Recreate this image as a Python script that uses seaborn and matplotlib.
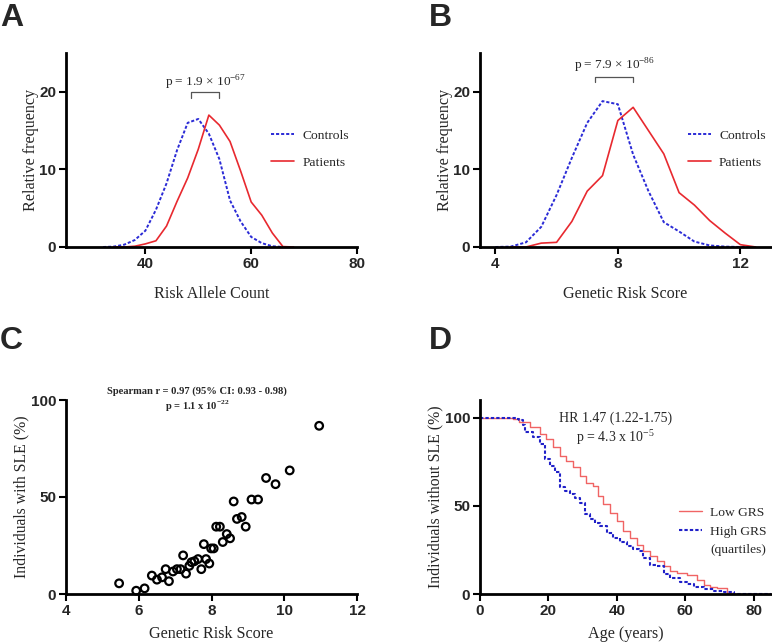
import numpy as np
import pandas as pd
import matplotlib.pyplot as plt
import seaborn as sns
from matplotlib.lines import Line2D

sns.set_style("ticks")
plt.rcParams['mathtext.fontset'] = 'custom'
plt.rcParams['mathtext.rm'] = 'Liberation Serif'
plt.rcParams['mathtext.bf'] = 'Liberation Serif:bold'

# --- data: panel A (risk allele count distributions) ---
a_ctrl_x = [32, 34, 36, 38, 40, 42, 44, 46, 48, 50, 52, 54, 56, 58, 60, 62, 64, 66, 68]
a_ctrl_y = [0, 0.05, 0.3, 0.9, 2.1, 4.8, 8.2, 12.5, 16.0, 16.5, 14.6, 11.3, 6.0, 3.3, 1.3, 0.5, 0.1, 0, 0]
a_pat_x = [34, 36, 38, 40, 42, 44, 46, 48, 50, 52, 54, 56, 58, 60, 62, 64, 66, 68]
a_pat_y = [0, 0, 0.1, 0.4, 0.8, 2.7, 5.9, 8.9, 12.6, 17.0, 15.7, 13.6, 9.8, 5.8, 4.1, 1.8, 0.05, 0]

# --- panel B (genetic risk score distributions) ---
b_ctrl_x = [4.0, 4.5, 5.0, 5.5, 6.0, 6.5, 7.0, 7.5, 8.0, 8.5, 9.0, 9.5, 10.0, 10.5, 11.0, 11.5, 12.0, 12.5]
b_ctrl_y = [0, 0.05, 0.6, 2.6, 6.7, 11.5, 16.0, 18.8, 18.4, 11.9, 7.2, 3.2, 2.0, 0.7, 0.2, 0.05, 0, 0]
b_pat_x = [4.5, 5.0, 5.5, 6.0, 6.5, 7.0, 7.5, 8.0, 8.5, 9.0, 9.5, 10.0, 10.5, 11.0, 11.5, 12.0, 12.5]
b_pat_y = [0, 0, 0.5, 0.6, 3.3, 7.2, 9.2, 16.3, 18.0, 15.0, 12.0, 7.0, 5.4, 3.4, 1.8, 0.3, 0]

# --- panel C (GRS bins vs % with SLE) ---
c_grs = [5.46, 5.93, 6.16, 6.36, 6.50, 6.64, 6.74, 6.83, 6.94, 7.05, 7.15, 7.22, 7.30,
         7.39, 7.45, 7.53, 7.63, 7.72, 7.79, 7.85, 7.94, 7.99, 8.06, 8.13, 8.23, 8.31,
         8.42, 8.51, 8.61, 8.70, 8.83, 8.94, 9.10, 9.28, 9.50, 9.76, 10.15, 10.96]
c_pct = [5.5, 1.7, 2.9, 9.5, 7.4, 8.6, 12.8, 6.6, 11.6, 12.8, 12.8, 19.9, 10.5,
         14.5, 16.4, 16.9, 18.0, 12.8, 25.7, 18.0, 15.7, 23.5, 23.5, 34.7, 34.7, 26.8,
         30.9, 28.7, 47.7, 38.7, 39.7, 34.7, 48.7, 48.7, 59.8, 56.6, 63.7, 86.7]

# --- panel D (survival without SLE) ---
d_low_age = [0, 9.6, 11.5, 14.5, 17.4, 19.4, 21.3, 23.3, 25.2, 27.2, 29.2, 31.1, 33.1, 34.5,
             36.0, 38.0, 39.9, 41.9, 43.8, 45.8, 47.7, 49.7, 51.7, 53.6, 55.6, 57.5, 60.5,
             63.4, 65.4, 67.3, 69.3, 72.2, 74.2, 76.1, 85]
d_low_pct = [100, 99.4, 97.5, 94.7, 90.9, 88.0, 83.2, 78.5, 75.6, 71.8, 67.0, 62.9, 61.3,
             55.6, 50.9, 46.1, 41.3, 35.6, 31.8, 28.0, 24.2, 21.3, 18.5, 15.6, 12.8, 11.8,
             10.9, 8.0, 5.1, 4.2, 3.6, 0.8, 0, 0, 0]
d_high_age = [0, 10.6, 11.5, 12.5, 13.0, 15.5, 17.4, 18.9, 20.4, 21.8, 23.3, 24.8, 26.2, 27.7,
              29.2, 30.6, 32.1, 33.6, 35.0, 37.0, 38.9, 40.9, 42.9, 44.8, 46.3, 47.7, 49.7,
              51.7, 53.6, 55.6, 58.5, 60.5, 62.4, 65.4, 68.3, 71.2, 74.2, 76.0, 85]
d_high_pct = [100, 99.4, 98.5, 95.6, 91.8, 89.0, 85.1, 76.6, 72.8, 69.0, 60.4, 58.5, 56.6, 54.7,
              51.8, 45.1, 42.3, 40.4, 38.5, 34.7, 31.8, 29.3, 27.4, 25.5, 24.2, 20.4, 16.6,
              15.6, 11.4, 9.0, 7.0, 5.7, 4.2, 2.9, 1.9, 1.0, 0.2, 0, 0]

W, H = 772, 643
fig = plt.figure(figsize=(W / 100, H / 100), dpi=100)


def px_axes(left, top, right, bottom):
    return fig.add_axes([left / W, 1 - bottom / H, (right - left) / W, (bottom - top) / H])


SERIF = 'Liberation Serif'
SANS = 'Liberation Sans'
BLUE = '#2b2bd6'
RED = '#e8292f'


def style_axes(ax, xticks, yticks):
    sns.despine(ax=ax)
    for s in ['left', 'bottom']:
        ax.spines[s].set_linewidth(2)
        ax.spines[s].set_color('black')
    ax.set_xticks(xticks)
    ax.set_yticks(yticks)
    ax.tick_params(length=5, width=1.5, color='black', pad=2)
    for lab in ax.get_xticklabels() + ax.get_yticklabels():
        lab.set_fontfamily(SANS)
        lab.set_fontweight('bold')
        lab.set_fontsize(11)


def legend(ax, x, y, spacing, extra=None):
    handles, labels = ax.get_legend_handles_labels()
    if extra:
        handles.append(Line2D([], [], color='none'))
        labels.append(extra)
    ax.legend(handles, labels, loc='upper left', bbox_to_anchor=(x, y), frameon=False,
              prop={'family': SERIF, 'size': 9.7}, handlelength=1.7, handletextpad=0.6,
              labelspacing=spacing, borderpad=0, borderaxespad=0)


# ---------- A ----------
axA = px_axes(66, 53, 357, 247)
sns.lineplot(x=a_ctrl_x, y=a_ctrl_y, ax=axA, color=BLUE, linewidth=1.4,
             linestyle=(0, (1.6, 1.0)), label='Controls')
sns.lineplot(x=a_pat_x, y=a_pat_y, ax=axA, color=RED, linewidth=1.2, label='Patients')
axA.set_xlim(25, 80)
axA.set_ylim(0, 25)
style_axes(axA, [40, 60, 80], [0, 10, 20])
axA.set_xlabel('Risk Allele Count', family=SERIF, fontsize=11.6, labelpad=11)
axA.set_ylabel('Relative frequency', family=SERIF, fontsize=11.6, labelpad=0)
axA.plot([48.7, 48.7, 53.9, 53.9], [19.2, 20, 20, 19.2], color='#555555', lw=0.9)
axA.text(51.3, 20.7, r'p = 1.9 × 10$^{-67}$', family=SERIF, fontsize=9.5, ha='center', va='baseline')
legend(axA, 0.705, 0.605, 1.05)

# ---------- B ----------
axB = px_axes(480, 53, 771, 247)
sns.lineplot(x=b_ctrl_x, y=b_ctrl_y, ax=axB, color=BLUE, linewidth=1.4,
             linestyle=(0, (1.6, 1.0)), label='Controls')
sns.lineplot(x=b_pat_x, y=b_pat_y, ax=axB, color=RED, linewidth=1.2, label='Patients')
axB.set_xlim(3.5, 13)
axB.set_ylim(0, 25)
style_axes(axB, [4, 8, 12], [0, 10, 20])
axB.set_xlabel('Genetic Risk Score', family=SERIF, fontsize=11.6, labelpad=11)
axB.set_ylabel('Relative frequency', family=SERIF, fontsize=11.6, labelpad=0)
axB.plot([7.27, 7.27, 8.5, 8.5], [21.2, 21.9, 21.9, 21.2], color='#555555', lw=0.9)
axB.text(7.9, 22.85, r'p = 7.9 × 10$^{-86}$', family=SERIF, fontsize=9.5, ha='center', va='baseline')
legend(axB, 0.715, 0.605, 1.05)

# ---------- C ----------
axC = px_axes(66, 400, 357, 594)
sns.scatterplot(x=c_grs, y=c_pct, ax=axC, s=30, facecolor='none', edgecolor='black',
                linewidth=1.6, marker='o')
axC.set_xlim(4, 12)
axC.set_ylim(0, 100)
for col in axC.collections:
    col.set_clip_on(False)
style_axes(axC, [4, 6, 8, 10, 12], [0, 50, 100])
axC.set_xlabel('Genetic Risk Score', family=SERIF, fontsize=11.6, labelpad=6)
axC.set_ylabel('Individuals with SLE (%)', family=SERIF, fontsize=11.3, labelpad=1)
axC.text(0.45, 1.046, 'Spearman r = 0.97 (95% CI: 0.93 - 0.98)', transform=axC.transAxes,
         family=SERIF, fontweight='bold', fontsize=7.6, ha='center', va='center')
axC.text(0.45, 0.969, r'p = 1.1 x 10$^{\mathbf{-22}}$', transform=axC.transAxes,
         family=SERIF, fontweight='bold', fontsize=7.6, ha='center', va='center')

# ---------- D ----------
axD = px_axes(480, 400, 771, 594)
sns.lineplot(x=d_low_age, y=d_low_pct, ax=axD, color='#f06464', linewidth=1.0,
             drawstyle='steps-post', label='Low GRS')
sns.lineplot(x=d_high_age, y=d_high_pct, ax=axD, color='#2020c8', linewidth=1.5,
             drawstyle='steps-post', linestyle=(0, (1.6, 1.0)), label='High GRS')
axD.set_xlim(0, 85)
axD.set_ylim(0, 110)
style_axes(axD, [0, 20, 40, 60, 80], [0, 50, 100])
axD.set_xlabel('Age (years)', family=SERIF, fontsize=11.6, labelpad=6)
axD.set_ylabel('Individuals without SLE (%)', family=SERIF, fontsize=11.3, labelpad=1)
axD.text(0.467, 0.907, 'HR 1.47 (1.22-1.75)', transform=axD.transAxes,
         family=SERIF, fontsize=10, ha='center', va='center')
axD.text(0.467, 0.81, r'p = 4.3 x 10$^{-5}$', transform=axD.transAxes,
         family=SERIF, fontsize=10, ha='center', va='center')
legend(axD, 0.685, 0.45, 0.45, extra='(quartiles)')

# panel letters
for lab, x, y in [('A', 0, 3), ('B', 429, 3), ('C', 0, 326), ('D', 429, 326)]:
    fig.text(x / W, 1 - y / H, lab, family=SANS, fontweight='bold', fontsize=23,
             ha='left', va='top')

fig.savefig('out.png', dpi=100)
